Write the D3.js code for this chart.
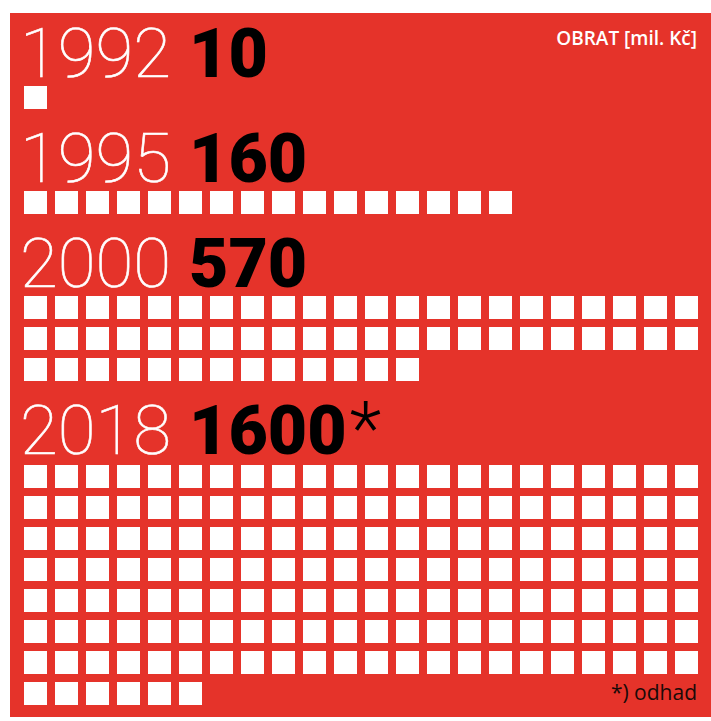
<!DOCTYPE html>
<html>
<head>
<meta charset="utf-8">
<script src="https://cdn.jsdelivr.net/npm/d3@7"></script>
<style>
  html, body { margin: 0; padding: 0; background: #fff; }
  svg { display: block; }
</style>
</head>
<body>
<div id="chart"></div>
<script>
// turnover per year, mil. Kč (one square = 10 mil.)
const years = ["1992", "1995", "2000", "2018"];
const values = [10, 160, 570, 1600];
const marks = ["", "", "", "*"];
const unitValue = 10;
const perRow = 22;

const width = 711, height = 721;
const bg = "#e5332a";

const svg = d3.select("#chart")
  .append("svg")
  .attr("width", width)
  .attr("height", height);

svg.append("rect")
  .attr("x", 10)
  .attr("y", 13)
  .attr("width", width - 10)
  .attr("height", 704)
  .attr("fill", bg);

// column and row scales for the squares
const x = d3.scaleLinear().domain([0, perRow]).range([24, 24 + perRow * 31]);
const rowY = d3.scaleLinear().domain([0, 1]).range([0, 31]);
const size = 23;

let baseline = 77;
years.forEach((yr, i) => {
  const n = Math.round(values[i] / unitValue);
  const rows = Math.ceil(n / perRow);
  const top = baseline + (i === years.length - 1 ? 11 : 9);

  const g = svg.append("g");

  g.append("text")
    .attr("x", 20)
    .attr("y", baseline)
    .attr("fill", "#fff")
    .attr("stroke", "#fff")
    .attr("stroke-width", 0.6)
    .style("font-family", "Roboto, 'DejaVu Sans', sans-serif")
    .style("font-weight", 100)
    .style("font-size", "69px")
    .text(yr);

  const val = g.append("text")
    .attr("x", 189)
    .attr("y", baseline)
    .attr("fill", "#000")
    .style("font-family", "Roboto, 'DejaVu Sans', sans-serif")
    .style("font-size", "68px");
  val.append("tspan")
    .style("font-weight", 900)
    .text(values[i]);
  if (marks[i]) {
    val.append("tspan")
      .attr("dx", 3)
      .style("font-weight", 300)
      .style("font-size", "74px")
      .text(marks[i]);
  }

  g.selectAll("rect.sq")
    .data(d3.range(n))
    .enter()
    .append("rect")
    .attr("class", "sq")
    .attr("x", d => x(d % perRow))
    .attr("y", d => top + rowY(Math.floor(d / perRow)))
    .attr("width", size)
    .attr("height", size)
    .attr("fill", "#fff");

  baseline = top + rowY(rows - 1) + size + 73;
});

svg.append("text")
  .attr("x", 697)
  .attr("y", 45)
  .attr("text-anchor", "end")
  .attr("fill", "#fff")
  .style("font-family", "'Open Sans', Lato, sans-serif")
  .style("font-weight", 600)
  .style("font-size", "19px")
  .text("OBRAT [mil. Kč]");

svg.append("text")
  .attr("x", 697)
  .attr("y", 700)
  .attr("text-anchor", "end")
  .attr("fill", "#1a0a08")
  .style("font-family", "'Open Sans', Lato, sans-serif")
  .style("font-weight", 400)
  .style("font-size", "21px")
  .text("*) odhad");
</script>
</body>
</html>
